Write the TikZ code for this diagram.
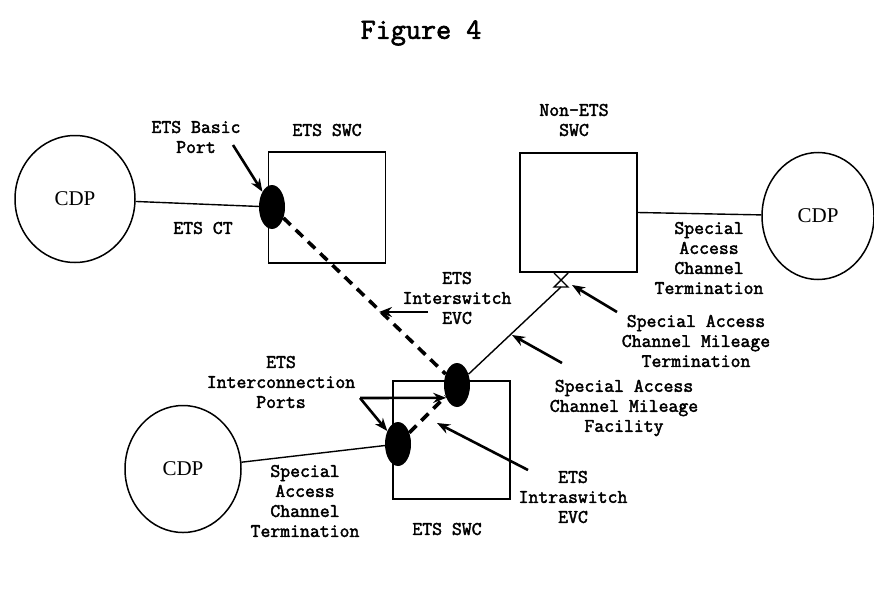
\documentclass[tikz,border=0pt]{standalone}
\usepackage{fontspec}
\usetikzlibrary{shapes.geometric,arrows.meta}
\newfontfamily\timesfont{Liberation Serif}
\newfontfamily\typefont{Latin Modern Mono}[FakeBold=2.2]

\begin{document}
\begin{tikzpicture}[x=1pt,y=-1pt,
    lbl/.style={font=\typefont\fontsize{19.2}{20}\selectfont,align=center,inner sep=0},
    cdp/.style={draw,ellipse,line width=1.5pt,minimum height=127pt,font=\timesfont\fontsize{21}{24}\selectfont},
    swc/.style={draw,line width=1.4pt,minimum width=117pt,minimum height=118pt,inner sep=0},
    port/.style={fill=black,ellipse,minimum width=26pt,minimum height=44pt,inner sep=0},
    ptr/.style={line width=2.6pt,-{Stealth[length=13pt,width=10pt]}},
    evc/.style={line width=3.6pt,dash pattern=on 10pt off 7pt}]
  \useasboundingbox (0,0) rectangle (874,607);
  \draw
    (75,199) node[cdp,minimum width=120pt] (cdpL){CDP}
    (818,216) node[cdp,minimum width=112pt] (cdpR){CDP}
    (183,469) node[cdp,minimum width=116pt] (cdpLL){CDP}
    (327,207.5) node[swc,minimum height=111pt] (swcTop){}
    (578.5,212.5) node[swc,minimum height=119pt] (swcNon){}
    (451.5,440) node[swc] (swcLow){}
    (272,207) node[port] (portB){}
    (457,385) node[port] (portU){}
    (398,444) node[port] (portL){};
  % free ends of the pointers
  \coordinate (xb) at (561,287);
  \coordinate (tBasic) at (233,145);
  \coordinate (tInter) at (428,312);
  \coordinate (hInter) at (379,312);
  \coordinate (tPorts) at (360,398);
  \coordinate (tIntra) at (528,470);
  \coordinate (hIntra) at (437,423);
  \coordinate (tFac) at (562,363);
  \coordinate (hFac) at (512,335);
  \coordinate (tTerm) at (617,312);
  \coordinate (hTerm) at (572,285);
  % links
  \begin{scope}[line width=1.4pt]
    \draw (cdpL) -- (portB);
    \draw (swcNon.east) -- (cdpR);
    \draw (cdpLL) -- (portL);
    \draw (portU) -- (xb);
    \draw (554,273) -- (568,287) -- (554,287) -- (568,273);
  \end{scope}
  \draw[evc] (portB) -- (portU);
  \draw[evc] (portL) -- (portU);
  % pointers
  \draw[ptr] (tBasic) -- (portB);
  \draw[ptr] (tInter) -- (hInter);
  \draw[ptr] (tPorts) -- (portU.230);
  \draw[ptr] (tPorts) -- (portL);
  \draw[ptr] (tIntra) -- (hIntra);
  \draw[ptr] (tFac) -- (hFac);
  \draw[ptr] (tTerm) -- (hTerm);
  % texts
  \node[lbl,font=\typefont\fontsize{29.3}{30}\selectfont] (title) at (421,33) {Figure 4};
  \node[lbl] (basicLbl) at (196,137) {ETS Basic\\Port};
  \node[lbl] (topLbl) at (327,130) {ETS SWC};
  \node[lbl] (ctLbl) at (203,228) {ETS CT};
  \node[lbl] (nonLbl) at (574,120) {Non-ETS\\SWC};
  \node[lbl] (sactR) at (709,258) {Special\\Access\\Channel\\Termination};
  \node[lbl] (interLbl) at (457,298) {ETS\\Interswitch\\EVC};
  \node[lbl] (termLbl) at (696,341) {Special Access\\Channel Mileage\\Termination};
  \node[lbl] (facLbl) at (624,408) {Special Access\\Channel Mileage\\Facility};
  \node[lbl] (portsLbl) at (281,382) {ETS\\Interconnection\\Ports};
  \node[lbl] (sactL) at (305,501) {Special\\Access\\Channel\\Termination};
  \node[lbl] (lowLbl) at (447,529) {ETS SWC};
  \node[lbl] (intraLbl) at (573,497) {ETS\\Intraswitch\\EVC};
\end{tikzpicture}
\end{document}
